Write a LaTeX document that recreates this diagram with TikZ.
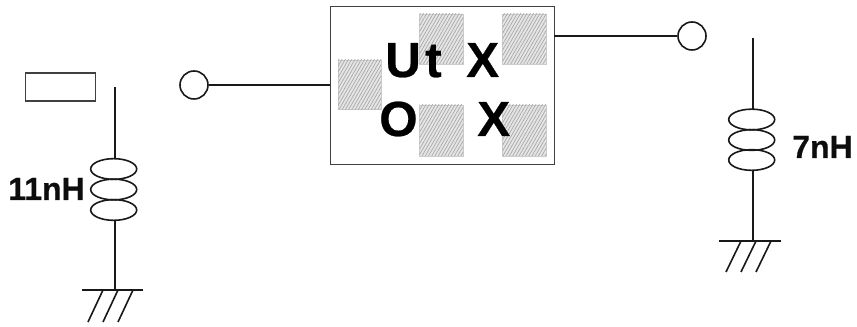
\documentclass[tikz,border=0pt]{standalone}
\usepackage{fontspec}
\setmainfont[BoldFeatures={FakeBold=0.5}]{Liberation Sans}
\usetikzlibrary{patterns.meta,shapes.geometric}
\tikzset{
  x=0.75pt,y=-0.75pt,
  wire/.style={draw=black!90,line width=1.2pt},
  outline/.style={draw=black!75,line width=1pt},
  pad/.style={draw=black!20,line width=0.5pt,fill=black!10,
    postaction={pattern={Lines[angle=60,distance=2.1pt,line width=0.5pt]},pattern color=black!35}},
  terminal/.style={circle,draw=black!90,line width=1.2pt,fill=white,minimum size=21pt,inner sep=0pt},
  coil/.style={ellipse,draw=black!90,line width=1.2pt,minimum width=34.5pt,minimum height=15.5pt,inner sep=0pt},
  big/.style={font=\fontsize{37}{37}\selectfont\bfseries,anchor=base west,inner sep=0pt,text=black},
  val/.style={font=\fontsize{24}{24}\selectfont\bfseries,anchor=base west,inner sep=0pt,text=black!95},
}
\begin{document}
\begin{tikzpicture}
\useasboundingbox[fill=white] (0,0) rectangle (857,327);
% package
\node[outline,fill=white,minimum width=168pt,minimum height=118.5pt,inner sep=0pt,anchor=north west] (box) at (329.5,6) {};
\foreach \n/\xa/\ya/\xb/\yb in {p1/338/60/381/109.5,p2/419.5/14/463/64,p3/502.5/14/546/64,p4/419.5/105/463/156,p5/502.5/105/546/156}
  \path[pad] (\xa,\ya) rectangle (\xb,\yb);
\node[big] (tU) at (385,77) {U};
\node[big] (tt) at (425,77) {t};
\node[big] (tX) at (466,77) {X};
\node[big] (tO) at (379,136) {O};
\node[big] (tY) at (477,136) {X};
% terminals
\node[terminal] (t1) at (194,85) {};
\node[terminal] (t2) at (692,36) {};
\coordinate (boxL) at (329.5,85);
\coordinate (boxR) at (554,36);
\draw[wire] (t1) -- (boxL);
\draw[wire] (boxR) -- (t2);
% empty part
\node[outline,minimum width=52.5pt,minimum height=21pt,inner sep=0pt] (part) at (60.5,87) {};
% left inductor
\coordinate (la) at (115,87);
\coordinate (lb) at (115,159);
\coordinate (lc) at (115,220);
\coordinate (ld) at (115,290);
\draw[wire] (la) -- (lb);
\draw[wire] (lc) -- (ld);
\node[coil] (l1) at (113.7,169) {};
\node[coil] (l2) at (113.7,189.5) {};
\node[coil] (l3) at (113.7,210) {};
\node[val] (lv) at (8,200) {11nH};
\coordinate (g1a) at (82,290); \coordinate (g1b) at (143,290);
\draw[wire] (g1a) -- (g1b);
\coordinate (h1) at (103,290); \coordinate (h1e) at (88,322);
\coordinate (h2) at (118,290); \coordinate (h2e) at (103,322);
\coordinate (h3) at (133,290); \coordinate (h3e) at (118,322);
\draw[wire] (h1) -- (h1e) (h2) -- (h2e) (h3) -- (h3e);
% right inductor
\coordinate (ra) at (752.7,38);
\coordinate (rb) at (752.7,109);
\coordinate (rc) at (752.7,170);
\coordinate (rd) at (752.7,241);
\draw[wire] (ra) -- (rb);
\draw[wire] (rc) -- (rd);
\node[coil] (r1) at (751.7,119.5) {};
\node[coil] (r2) at (751.7,140) {};
\node[coil] (r3) at (751.7,160) {};
\node[val] (rv) at (792,158) {7nH};
\coordinate (g2a) at (719,241); \coordinate (g2b) at (781,241);
\draw[wire] (g2a) -- (g2b);
\coordinate (k1) at (741,241); \coordinate (k1e) at (726,272);
\coordinate (k2) at (756,241); \coordinate (k2e) at (741,272);
\coordinate (k3) at (771,241); \coordinate (k3e) at (756,272);
\draw[wire] (k1) -- (k1e) (k2) -- (k2e) (k3) -- (k3e);
\end{tikzpicture}
\end{document}
